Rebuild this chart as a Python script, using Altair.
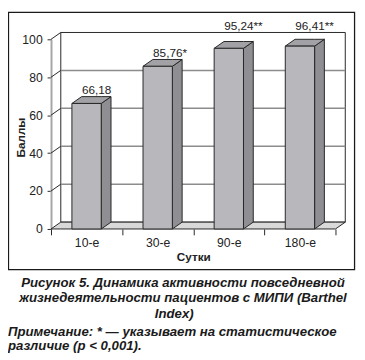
import json
import altair as alt
import pandas as pd

# ---- data ----
categories = ["10-е", "30-е", "90-е", "180-е"]
values = [66.18, 85.76, 95.24, 96.41]
significance = ["", "*", "**", "**"]
y_ticks = [0, 20, 40, 60, 80, 100]
grid_levels = [20, 40, 60, 80]
x_title = "Сутки"
y_title = "Баллы"
caption_lines = ["Рисунок 5. Динамика активности повседневной",
                 "жизнедеятельности пациентов с МИПИ (Barthel",
                 "Index)"]
note_lines = ["Примечание: * — указывает на статистическое",
              "различие (p < 0,001)."]

# ---- geometry (style) ----
W_PX, H_PX = 291, 194
N = len(categories)
BAND = W_PX / N
PPU = H_PX / 100.0
DX = 10 / BAND          # depth in x units
DY = 7 / PPU            # depth in y units
BW = 30 / BAND          # bar width in x units
FONT = "Liberation Sans"
DARK = "#262626"

xs = alt.Scale(domain=[0, N], nice=False, zero=False)
ys = alt.Scale(domain=[0, 100], nice=False, zero=False)

label_expr = "datum.value % 1 === 0 ? '' : " + json.dumps(categories, ensure_ascii=False) + "[floor(datum.value)]"
x_axis = alt.Axis(values=[k / 2 for k in range(2 * N + 1)], labelExpr=label_expr,
                  tickOpacity={"condition": {"test": "datum.value % 1 === 0", "value": 1}, "value": 0},
                  tickSize=6, tickColor=DARK, domain=False, grid=False,
                  labelFont=FONT, labelFontSize=12.5, labelColor="#222", labelPadding=2,
                  title=x_title, titleFont=FONT, titleFontSize=12, titleFontWeight="bold",
                  titleColor="#222", titlePadding=3)
y_axis = alt.Axis(values=y_ticks, tickSize=4, tickColor=DARK, domainColor="#a6a6a6", domainWidth=2,
                  grid=False, labelFont=FONT, labelFontSize=12.5, labelColor="#222", labelPadding=5,
                  title=y_title, titleFont=FONT, titleFontSize=12, titleFontWeight="bold",
                  titleColor="#222", titleAngle=270, titleX=-27, titleY=H_PX / 2 + 3,
                  titleAlign="center", titleBaseline="alphabetic")

def X(f="x"):
    return alt.X(f"{f}:Q", scale=xs, axis=x_axis)

def Y(f="y"):
    return alt.Y(f"{f}:Q", scale=ys, axis=y_axis)

# back wall
wall = pd.DataFrame([{"x": DX, "x2": N + DX, "y": DY, "y2": 100 + DY}])
back = alt.Chart(wall).mark_rect(fill="white", stroke=DARK, strokeWidth=1).encode(
    x=X(), x2="x2:Q", y=Y(), y2="y2:Q")

# grid lines on back wall
gdf = pd.DataFrame([{"x": DX, "x2": N + DX, "y": g + DY} for g in grid_levels])
grid = alt.Chart(gdf).mark_rule(color="#8c8c8c", strokeWidth=1.5).encode(
    x=X(), x2="x2:Q", y=Y())

# left-wall diagonals
ddf = pd.DataFrame([{"x": 0, "x2": DX, "y": t, "y2": t + DY} for t in y_ticks if t > 0])
diag = alt.Chart(ddf).mark_rule(color=DARK, strokeWidth=1).encode(
    x=X(), x2="x2:Q", y=Y(), y2="y2:Q")

# floor
fdf = pd.DataFrame([
    {"x": 0, "y": 0, "y2": 0},
    {"x": DX, "y": 0, "y2": DY},
    {"x": N, "y": 0, "y2": DY},
    {"x": N + DX, "y": DY, "y2": DY},
])
floor = alt.Chart(fdf).mark_area(fill="#d9d9d9", stroke=DARK, strokeWidth=1).encode(
    x=X(), y=Y(), y2="y2:Q")

# bars
front_rows, side_rows, top_rows, lab_rows = [], [], [], []
for i, (c, v, s) in enumerate(zip(categories, values, significance)):
    x0 = i + 0.5 - BW / 2
    x1 = i + 0.5 + BW / 2
    front_rows.append({"bar": c, "x": x0, "x2": x1, "y": v, "y2": 0})
    side_rows += [{"bar": c, "x": x1, "y": v, "y2": 0},
                  {"bar": c, "x": x1 + DX, "y": v + DY, "y2": DY}]
    top_rows += [{"bar": c, "x": x0, "y": v, "y2": v},
                 {"bar": c, "x": x0 + DX, "y": v, "y2": v + DY},
                 {"bar": c, "x": x1, "y": v, "y2": v + DY},
                 {"bar": c, "x": x1 + DX, "y": v + DY, "y2": v + DY}]
    ly = v + DY + 3.2
    if ly + 3 > 100 + DY:
        ly = 100 + DY + 3.6
    lab_rows.append({"bar": c, "x": x0 + DX * 1.03, "y": ly,
                     "label": f"{v:.2f}".replace(".", ",") + s})

side = alt.Chart(pd.DataFrame(side_rows)).mark_area(fill="#8f8f93", stroke=DARK, strokeWidth=1).encode(
    x=X(), y=Y(), y2="y2:Q", detail="bar:N")
top = alt.Chart(pd.DataFrame(top_rows)).mark_area(fill="#a2a2a6", stroke=DARK, strokeWidth=1).encode(
    x=X(), y=Y(), y2="y2:Q", detail="bar:N")
front = alt.Chart(pd.DataFrame(front_rows)).mark_rect(fill="#b8b8bc", stroke=DARK, strokeWidth=1).encode(
    x=X(), x2="x2:Q", y=Y(), y2="y2:Q")
labels = alt.Chart(pd.DataFrame(lab_rows)).mark_text(
    font=FONT, fontSize=12, color="#222", align="left", baseline="middle").encode(
    x=X(), y=Y(), text="label:N")

# outer frame (plot origin is at page x=52, y=36)
frame = alt.Chart(pd.DataFrame([{"k": 0}])).mark_rect(fill="transparent", stroke="#1a1a1a", strokeWidth=1.3).encode(
    x=alt.value(-43.5), x2=alt.value(310.5), y=alt.value(-27.5), y2=alt.value(235.5))

# caption
cap_layers = []
cap_x = [135, 135, 126]
cap_y = [249, 265, 281]
for line, cx, cy in zip(caption_lines, cap_x, cap_y):
    cap_layers.append(alt.Chart(pd.DataFrame([{"t": line}])).mark_text(
        font=FONT, fontSize=13.5, fontStyle="italic", fontWeight="bold", color="#1a1a1a",
        align="center", baseline="middle").encode(x=alt.value(cx), y=alt.value(cy), text="t:N"))
for line, cy in zip(note_lines, [299, 314]):
    cap_layers.append(alt.Chart(pd.DataFrame([{"t": line}])).mark_text(
        font=FONT, fontSize=13.5, fontStyle="italic", fontWeight="bold", color="#1a1a1a",
        align="left", baseline="middle").encode(x=alt.value(-44), y=alt.value(cy), text="t:N"))

chart = alt.layer(back, grid, diag, floor, side, top, front, labels, frame, *cap_layers).properties(
    width=W_PX, height=H_PX,
    autosize=alt.AutoSizeParams(type="none"),
    padding={"left": 44, "top": 28, "right": 22, "bottom": 130},
    background="white",
).configure_view(stroke=None)

chart.save("out.html", embed_options={"renderer": "svg", "actions": False})
